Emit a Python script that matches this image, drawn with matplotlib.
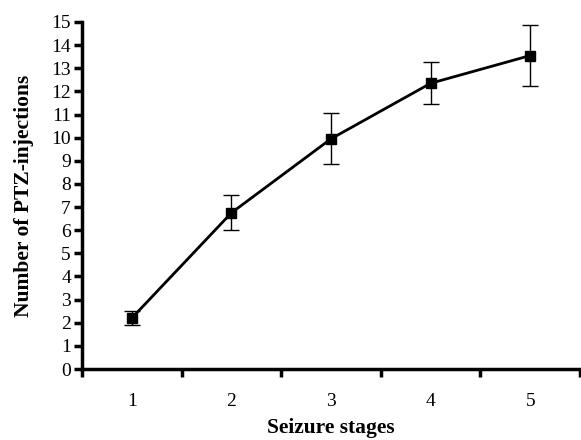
import matplotlib.pyplot as plt
import numpy as np

# Seizure stages vs number of PTZ injections
stages = [1, 2, 3, 4, 5]
injections = [2.2, 6.75, 9.95, 12.35, 13.55]
errors = [0.3, 0.75, 1.1, 0.9, 1.3]

plt.rcParams['font.family'] = ['Liberation Serif', 'DejaVu Serif']

fig = plt.figure(figsize=(5.81, 4.4), dpi=100)
ax = fig.add_axes([82 / 581, 1 - 369 / 440, (580 - 82) / 581, (369 - 22) / 440])

ax.errorbar(stages, injections, yerr=errors, color='black', lw=2, marker='s', ms=7.5,
            ecolor='black', elinewidth=1, capsize=6, capthick=1)

ax.set_xlim(0.5, 5.5)
ax.set_ylim(0, 15)
ax.set_yticks(np.arange(0, 16, 1))
ax.set_xticks(stages)
ax.set_xticks(np.arange(0.5, 5.6, 1), minor=True)
ax.tick_params(axis='x', which='major', length=0, pad=17, labelsize=14)
ax.tick_params(axis='x', which='minor', length=6, width=2.5, direction='out')
ax.tick_params(axis='y', length=6, width=2.5, direction='out', labelsize=14, pad=2)

for s in ['top', 'right']:
    ax.spines[s].set_visible(False)
for s in ['left', 'bottom']:
    ax.spines[s].set_linewidth(2.5)

ax.set_xlabel("Seizure stages", fontsize=15.5, fontweight='bold', labelpad=6)
ax.set_ylabel("Number of PTZ-injections", fontsize=15.5, fontweight='bold', labelpad=12)

plt.savefig("out.png", dpi=100)
